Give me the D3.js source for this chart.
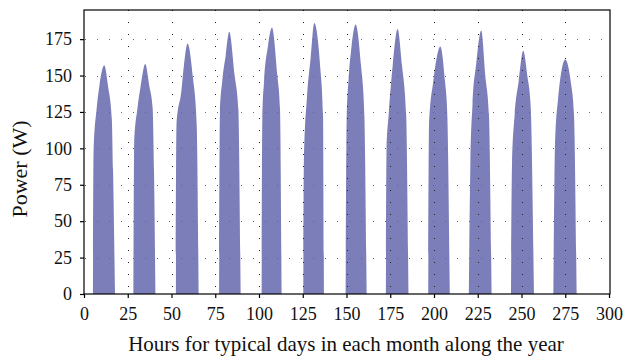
<!DOCTYPE html>
<html lang="en">
<head>
<meta charset="utf-8">
<title>Power</title>
<script src="https://cdn.jsdelivr.net/npm/d3@7/dist/d3.min.js"></script>
<style>
  body { margin: 0; background: #fff; }
  text { font-family: "Liberation Serif", "DejaVu Serif", serif; fill: #111; }
</style>
</head>
<body>
<script>
// typical day per month (hour, watts)
var months = ["Jan", "Feb", "Mar", "Apr", "May", "Jun", "Jul", "Aug", "Sep", "Oct", "Nov", "Dec"];

var dayHours = [
  [5.1, 5.5, 7.2, 8.8, 11.6, 13.7, 15.9, 16.6, 17.7],
  [28.2, 28.7, 30.5, 32.4, 35.0, 37.3, 39.2, 40.0, 40.8],
  [52.5, 52.9, 55.6, 57.1, 59.2, 62.1, 64.4, 65.5],
  [77.2, 77.7, 79.0, 81.0, 83.0, 86.1, 88.2, 89.5],
  [101.5, 101.9, 102.9, 105.1, 107.4, 110.5, 112.0, 112.9],
  [125.3, 125.7, 127.4, 129.5, 131.6, 134.9, 136.6, 137.1],
  [149.5, 150.1, 151.2, 152.7, 155.2, 158.3, 160.2, 161.5],
  [172.5, 172.9, 174.1, 176.4, 179.2, 181.7, 184.1, 185.4],
  [196.7, 197.2, 199.6, 201.5, 203.6, 206.3, 207.6, 209.0],
  [219.9, 220.8, 222.0, 224.0, 227.0, 229.3, 231.4, 232.9],
  [244.0, 244.6, 246.1, 248.4, 251.0, 253.3, 255.2, 257.1],
  [268.2, 269.2, 270.9, 272.8, 275.0, 278.1, 280.0, 281.5]
];

var dayPower = [
  [0, 100, 127, 143, 157, 143, 120, 85, 0],
  [0, 105, 127, 143, 158, 143, 128, 85, 0],
  [0, 118, 139, 157, 172, 150, 116, 0],
  [0, 125, 146, 164, 180, 150, 127, 0],
  [0, 120, 146, 170, 183, 150, 127, 0],
  [0, 95, 135, 162, 186, 157, 123, 0],
  [0, 120, 148, 168, 185, 157, 123, 0],
  [0, 100, 123, 157, 182, 157, 123, 0],
  [0, 118, 146, 162, 170, 146, 123, 0],
  [0, 90, 130, 157, 181, 150, 123, 0],
  [0, 90, 123, 146, 167, 150, 130, 0],
  [0, 105, 134, 153, 161, 146, 123, 0]
];

var xTicks = [0, 25, 50, 75, 100, 125, 150, 175, 200, 225, 250, 275, 300];
var yTicks = [0, 25, 50, 75, 100, 125, 150, 175];

var width = 636, height = 358;
var plotLeft = 84, plotRight = 610, plotTop = 10, plotBottom = 294;

var svg = d3.select("body").append("svg")
  .attr("width", width)
  .attr("height", height);

var x = d3.scaleLinear().domain([0, 300]).range([plotLeft, 609]);
var y = d3.scaleLinear().domain([0, 195]).range([plotBottom, plotTop]);

var area = d3.area()
  .x(function(d) { return x(d[0]); })
  .y0(y(0))
  .y1(function(d) { return y(d[1]); })
  .curve(d3.curveMonotoneX);

months.forEach(function(m, i) {
  var pts = dayHours[i].map(function(h, j) { return [h, dayPower[i][j]]; });
  svg.append("path")
    .datum(pts)
    .attr("class", "day " + m)
    .attr("d", area)
    .attr("fill", "#7b7eb9");
});

// dotted grid on top of the fill
var grid = svg.append("g").attr("stroke", "#222").attr("stroke-width", 1)
  .attr("stroke-dasharray", "1,11");
grid.selectAll(".gx")
  .data(xTicks.filter(function(d) { return d > 0 && d < 300; }))
  .enter().append("line")
  .attr("x1", function(d) { return Math.round(x(d)) + 0.5; })
  .attr("x2", function(d) { return Math.round(x(d)) + 0.5; })
  .attr("y1", plotTop)
  .attr("y2", plotBottom);
grid.selectAll(".gy")
  .data(yTicks.filter(function(d) { return d > 0; }))
  .enter().append("line")
  .attr("y1", function(d) { return Math.round(y(d)) + 0.5; })
  .attr("y2", function(d) { return Math.round(y(d)) + 0.5; })
  .attr("x1", plotLeft + 1)
  .attr("x2", plotRight)
  .attr("stroke", "#666");

// frame
svg.append("rect")
  .attr("x", plotLeft).attr("y", plotTop)
  .attr("width", plotRight - plotLeft).attr("height", plotBottom - plotTop)
  .attr("fill", "none").attr("stroke", "#000").attr("stroke-width", 1.2);

var xAxis = svg.append("g")
  .attr("transform", "translate(0," + plotBottom + ")")
  .call(d3.axisBottom(x).tickValues(xTicks).tickSize(4).tickPadding(9));
var yAxis = svg.append("g")
  .attr("transform", "translate(" + plotLeft + ",0)")
  .call(d3.axisLeft(y).tickValues(yTicks).tickSize(4).tickPadding(8));

[xAxis, yAxis].forEach(function(g) {
  g.attr("font-family", null).attr("font-size", null);
  g.select(".domain").remove();
  g.selectAll(".tick line").attr("stroke", "#000").attr("stroke-width", 1.2);
  g.selectAll(".tick text")
    .style("font-family", "'Liberation Serif', serif")
    .style("font-size", "18px")
    .attr("fill", "#111");
});

svg.append("text")
  .attr("x", 346)
  .attr("y", 351)
  .attr("text-anchor", "middle")
  .attr("font-size", 21)
  .text("Hours for typical days in each month along the year");

svg.append("text")
  .attr("transform", "translate(27,169) rotate(-90)")
  .attr("text-anchor", "middle")
  .attr("font-size", 22)
  .text("Power (W)");
</script>
</body>
</html>
